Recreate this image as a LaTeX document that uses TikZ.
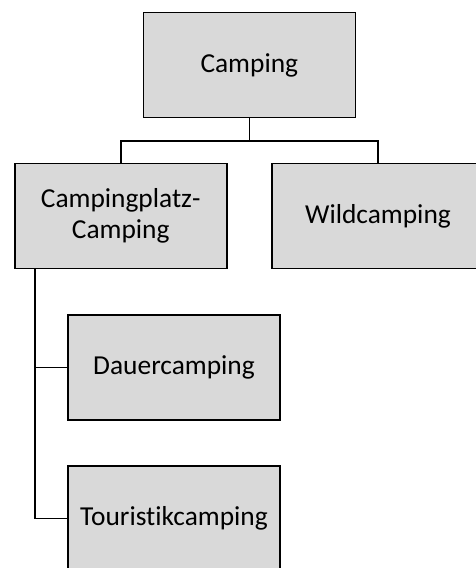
\documentclass[tikz,border=0pt]{standalone}
\usepackage{fontspec}
\setmainfont{Carlito}[Ligatures=NoCommon]
\usetikzlibrary{calc}
\definecolor{boxgray}{HTML}{D9D9D9}
\tikzset{
  box/.style={draw=black,fill=boxgray,line width=1.6pt,minimum width=212pt,minimum height=105pt,
    inner sep=0pt,align=center,font=\fontsize{27.4}{31}\selectfont},
  link/.style={line width=1.6pt}
}

\begin{document}
\begin{tikzpicture}[x=1pt,y=-1pt]
\path[use as bounding box] (0,0) rectangle (476,568);
\clip (0,0) rectangle (476,568);
\node[box] (camp) at (249.3,65) {Camping};
\node[box] (platz) at (120.7,216) {Campingplatz-\\Camping};
\node[box] (wild) at (378,216) {Wildcamping};
\node[box] (dauer) at (174,367.3) {Dauercamping};
\node[box] (tour) at (174,518.3) {Touristikcamping};
\coordinate (split) at ($(camp.south)+(0,22.7)$);
\coordinate (trunk) at ($(platz.south west)!0.1!(platz.south east)$);
\draw[link] (camp.south) -- (split);
\draw[link] (platz.north) |- (split) -| (wild.north);
\draw[link] (trunk) |- (tour.west);
\draw[link] (trunk |- dauer.west) -- (dauer.west);
\end{tikzpicture}
\end{document}
